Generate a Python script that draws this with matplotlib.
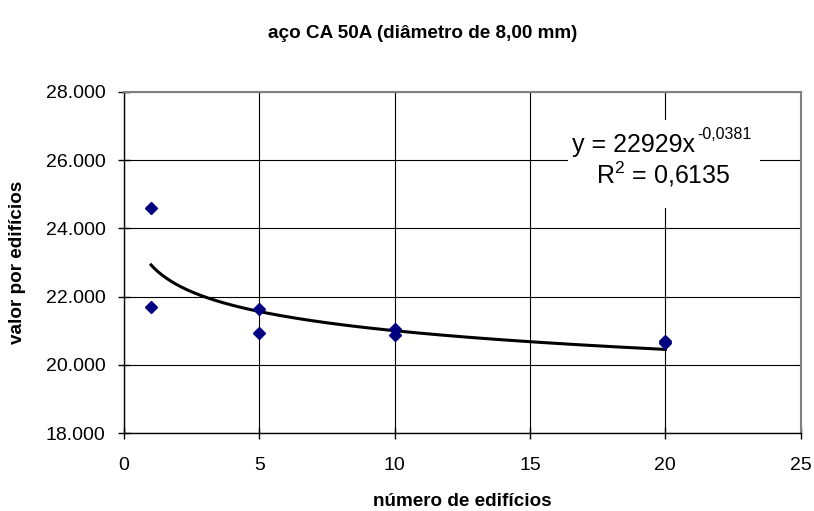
import numpy as np
import matplotlib
matplotlib.use("Agg")
import matplotlib.pyplot as plt
from matplotlib.ticker import FuncFormatter
from matplotlib.patches import Rectangle

plt.rcParams['font.family'] = ['Liberation Sans', 'DejaVu Sans']
plt.rcParams['mathtext.fontset'] = 'custom'
plt.rcParams['mathtext.rm'] = 'Liberation Sans'
plt.rcParams['mathtext.default'] = 'rm'

# data
x_vals = [1, 1, 5, 5, 10, 10, 20, 20]
y_vals = [24590, 21700, 21630, 20950, 21060, 20880, 20700, 20640]
fit_a = 22929
fit_b = -0.0381
x_ticks = [0, 5, 10, 15, 20, 25]
y_ticks = [18000, 20000, 22000, 24000, 26000, 28000]
title = "aço CA 50A (diâmetro de 8,00 mm)"
xlabel = "número de edifícios"
ylabel = "valor por edifícios"
eq_main = "y = 22929x"
eq_exp = "-0,0381"
r2_text = r"R$^{\mathrm{2}}$ = 0,6135"

fig = plt.figure(figsize=(8.14, 5.11), dpi=100)
ax = fig.add_axes([124/814, 1-433.3/511, (800.7-124)/814, (433.3-91.7)/511])

xf = np.linspace(1, 20, 200)
ax.plot(xf, fit_a * xf ** fit_b, color='black', lw=2.2, zorder=3)
ax.plot(x_vals, y_vals, linestyle='none', marker='D', markersize=6.5,
        color='#000080', zorder=4)

ax.set_xlim(0, 25)
ax.set_ylim(18000, 28000)
ax.set_xticks(x_ticks)
ax.set_yticks(y_ticks)
ax.yaxis.set_major_formatter(FuncFormatter(lambda v, p: f"{int(v):,}".replace(",", ".")))
ax.grid(True, color='black', lw=0.8)
ax.set_axisbelow(True)
for s in ['top', 'right']:
    ax.spines[s].set_color('#808080')
    ax.spines[s].set_linewidth(1.5)
for s in ['left', 'bottom']:
    ax.spines[s].set_color('black')
    ax.spines[s].set_linewidth(1.0)
ax.tick_params(direction='inout', length=8.6, width=1, labelsize=14)
ax.tick_params(axis='x', pad=13)
ax.tick_params(axis='y', pad=9)

ax.set_xlabel(xlabel, fontsize=13.6, fontweight='bold')
ax.set_ylabel(ylabel, fontsize=13.6, fontweight='bold')
ax.xaxis.set_label_coords(462/814, 1-502/511, transform=fig.transFigure)
ax.yaxis.set_label_coords(18/814, 1-262/511, transform=fig.transFigure)
ax.xaxis.label.set_va('center')
ax.yaxis.label.set_va('center')
fig.text(423/814, 1-34/511, title, fontsize=13.6, fontweight='bold',
         ha='center', va='center')

ax.text(572/814, 1-152/511, eq_main, transform=fig.transFigure,
        fontsize=18, ha='left', va='baseline', zorder=5)
ax.text(697/814, 1-139/511, eq_exp, transform=fig.transFigure,
        fontsize=11.5, ha='left', va='baseline', zorder=5)
ax.text(663/814, 1-174/511, r2_text, transform=fig.transFigure,
        fontsize=18, ha='center', va='center', zorder=5)
fig_rect = Rectangle((568/814, 1-208/511), (760-568)/814, (208-120)/511,
                     transform=fig.transFigure, facecolor='white', edgecolor='none', zorder=2)
ax.add_artist(fig_rect)

fig.savefig("out.png", dpi=100)
